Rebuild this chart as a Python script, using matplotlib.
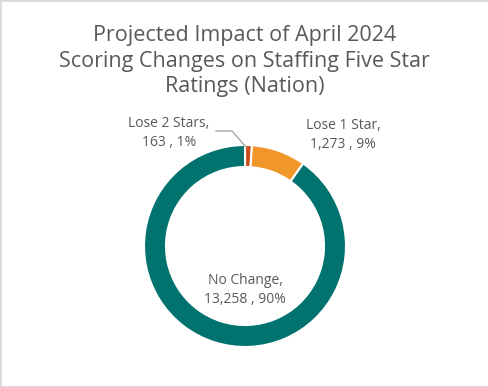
import matplotlib.pyplot as plt
from matplotlib.patches import Rectangle

categories = ['Lose 2 Stars', 'Lose 1 Star', 'No Change']
counts = [163, 1273, 13258]
pct_labels = ['1%', '9%', '90%']
colors = ['#C9501C', '#F0962A', '#00736F']

W, H = 489, 387
fig = plt.figure(figsize=(W / 100, H / 100), dpi=100)
ax = fig.add_axes([0, 0, 1, 1])

cx, cy, r = 245, H - 246, 101
ax.pie(counts, colors=colors, startangle=90, counterclock=False,
       center=(cx, cy), radius=r, frame=True,
       wedgeprops=dict(width=22, edgecolor='white', linewidth=1.5))
ax.set_xlim(0, W)
ax.set_ylim(0, H)
ax.set_aspect('equal')
ax.axis('off')

txt = '#595959'
font = ['Open Sans', 'DejaVu Sans']
ax.text(W / 2, H - 61, 'Projected Impact of April 2024\nScoring Changes on Staffing Five Star\nRatings (Nation)',
        ha='center', va='center', fontsize=15.5, color=txt, family=font, linespacing=1.3)

def lab(i):
    return f'{categories[i]},\n{counts[i]:,} , {pct_labels[i]}'

ax.text(169, H - 133, lab(0), ha='center', va='center', fontsize=10, color=txt, family=font, linespacing=1.4)
ax.text(343, H - 135, lab(1), ha='center', va='center', fontsize=10, color=txt, family=font, linespacing=1.4)
ax.text(245, H - 290, lab(2), ha='center', va='center', fontsize=10, color=txt, family=font, linespacing=1.4)
ax.plot([216, 232, 246], [H - 131, H - 131, H - 147], color='#A6A6A6', lw=1)

fig.patches.append(Rectangle((0, 0), 1, 1, transform=fig.transFigure, fill=False,
                             edgecolor='#D9D9D9', linewidth=2))
fig.savefig('out.png', dpi=100)
